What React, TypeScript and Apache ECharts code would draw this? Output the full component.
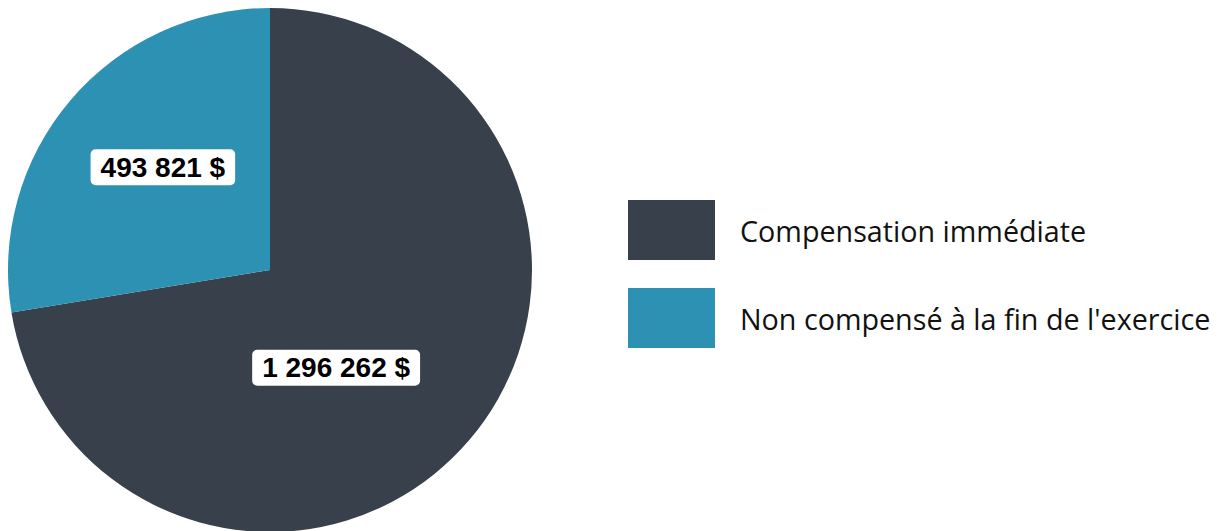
import React, { useEffect, useRef } from "react";
import * as echarts from "echarts";

const categories = ["Compensation immédiate", "Non compensé à la fin de l'exercice"];
const values = [1296262, 493821];
const colors = ["#37404b", "#2d91b3"];
const labelShift = [
  [-36, 11],
  [-5, -16],
];

const fmt = (v: number) => String(v).replace(/\B(?=(\d{3})+(?!\d))/g, " ") + " $";

export default function App() {
  const ref = useRef<HTMLDivElement>(null);
  useEffect(() => {
    const chart = echarts.init(ref.current!, null, { renderer: "svg" });
    chart.setOption({
      animation: false,
      legend: {
        orient: "vertical",
        left: 628,
        top: 200,
        padding: 0,
        itemWidth: 87,
        itemHeight: 60,
        itemGap: 28,
        icon: "rect",
        selectedMode: false,
        textStyle: {
          fontFamily: "Open Sans",
          fontSize: 28.7,
          color: "#111",
          padding: [0, 0, 0, 20],
        },
        data: categories,
      },
      series: [
        {
          type: "pie",
          center: [270, 270],
          radius: 262,
          startAngle: 90,
          clockwise: true,
          silent: true,
          data: categories.map((c, i) => ({
            name: c,
            value: values[i],
            itemStyle: { color: colors[i] },
          })),
          label: {
            show: true,
            position: "inside",
            formatter: (p: any) => fmt(p.value),
            backgroundColor: "#fff",
            borderRadius: 5,
            padding: [5, 10, 3, 10],
            fontFamily: "Liberation Sans",
            fontWeight: "bold",
            fontSize: 28,
            lineHeight: 28,
            color: "#000",
          },
          labelLayout: (p: any) => ({
            dx: labelShift[p.dataIndex][0],
            dy: labelShift[p.dataIndex][1],
          }),
          labelLine: { show: false },
        },
      ],
    });
    return () => chart.dispose();
  }, []);
  return (
    <div
      ref={ref}
      style={{ position: "absolute", left: 0, top: 0, width: 1220, height: 531 }}
    />
  );
}
